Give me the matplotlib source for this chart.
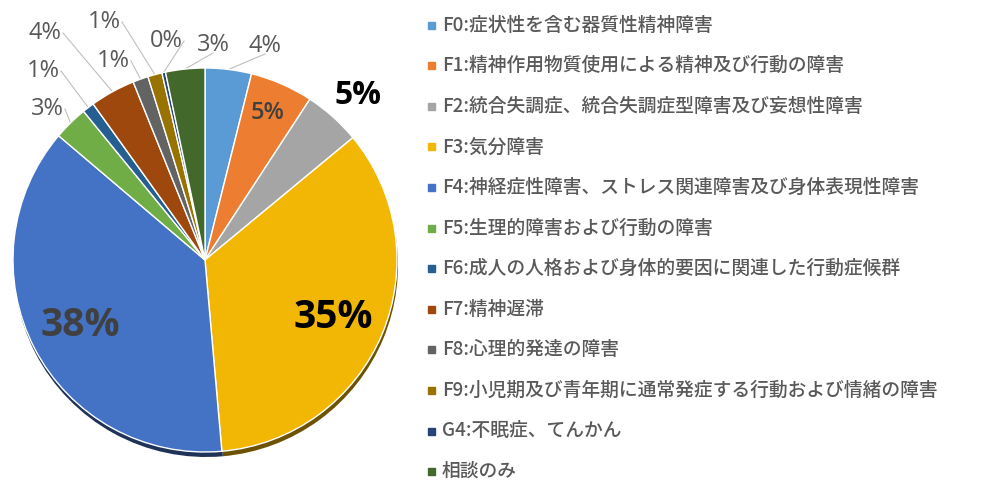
import numpy as np
import matplotlib.pyplot as plt
import matplotlib.colors as mcolors

plt.rcParams['font.family'] = ['Noto Sans CJK JP', 'DejaVu Sans']

labels = ['F0:症状性を含む器質性精神障害',
          'F1:精神作用物質使用による精神及び行動の障害',
          'F2:統合失調症、統合失調症型障害及び妄想性障害',
          'F3:気分障害',
          'F4:神経症性障害、ストレス関連障害及び身体表現性障害',
          'F5:生理的障害および行動の障害',
          'F6:成人の人格および身体的要因に関連した行動症候群',
          'F7:精神遅滞',
          'F8:心理的発達の障害',
          'F9:小児期及び青年期に通常発症する行動および情緒の障害',
          'G4:不眠症、てんかん',
          '相談のみ']
values = [3.9, 5.3, 4.8, 34.6, 37.6, 2.9, 1.0, 3.8, 1.3, 1.2, 0.3, 3.3]
colors = ['#5B9BD5', '#ED7D31', '#A5A5A5', '#F2B705', '#4472C4', '#70AD47',
          '#255E91', '#9E480E', '#636363', '#997300', '#264478', '#43682B']

W, H = 1008, 483
cx, cy, r = 205, H - 260, 192

fig = plt.figure(figsize=(W / 100, H / 100), dpi=100)
ax = fig.add_axes([0, 0, 1, 1])

# dark rim underneath for the 3D look
dark = [tuple(np.array(mcolors.to_rgb(c)) * 0.45) for c in colors]
ax.pie(values, colors=dark, startangle=90, counterclock=False,
       center=(cx + 1, cy - 5), radius=r, wedgeprops=dict(linewidth=0))
wedges, _ = ax.pie(values, colors=colors, startangle=90, counterclock=False,
                   center=(cx, cy), radius=r,
                   wedgeprops=dict(edgecolor='white', linewidth=1))

pct = [f'{round(v / sum(values) * 100)}%' for v in values]

# label placement (pixel coords from top-left), style, leader line or not
lab_pos = [(265, 46), (268, 113), (358, 96), (333, 318), (80, 326), (47, 109),
           (43, 71), (45, 33), (113, 61), (104, 22), (166, 41), (213, 45)]
lab_style = ['out', 'in', 'big', 'huge', 'huge', 'out',
             'out', 'out', 'out', 'out', 'out', 'out']
lab_color = ['#595959', '#404040', 'black', 'black', '#404040', '#595959',
             '#595959', '#595959', '#595959', '#595959', '#595959', '#595959']

for w, t, (px, py), st, col in zip(wedges, pct, lab_pos, lab_style, lab_color):
    ty = H - py
    if st == 'huge':
        ax.text(px, ty, t, fontsize=28, fontweight='bold', color=col,
                ha='center', va='center', family='Open Sans')
    elif st == 'big':
        ax.text(px, ty, t, fontsize=23, fontweight='bold', color=col,
                ha='center', va='center', family='Open Sans')
    elif st == 'in':
        ax.text(px, ty, t, fontsize=17, fontweight='semibold', color=col,
                ha='center', va='center', family='Open Sans')
    else:
        ax.text(px, ty, t, fontsize=17, fontweight='medium', color=col,
                ha='center', va='center', family='Open Sans')
        ang = np.deg2rad((w.theta1 + w.theta2) / 2)
        ex, ey = cx + r * np.cos(ang), cy + r * np.sin(ang)
        # leader from label edge to slice rim
        sx = px + 18 if px < cx - 10 else px
        sy = ty - 8 if px >= cx - 10 else ty
        ax.plot([sx, ex], [sy, ey], color='#BFBFBF', lw=0.8, zorder=0)

# legend
for i, (lab, c) in enumerate(zip(labels, colors)):
    y = H - (25 + i * 40.6)
    ax.add_patch(plt.Rectangle((428, y - 3.5), 7, 7, color=c))
    ax.text(442, y, lab, fontsize=13.5, fontweight='medium', color='#595959',
            va='center', ha='left')

ax.set_xlim(0, W)
ax.set_ylim(0, H)
ax.set_aspect('auto')
ax.axis('off')
fig.savefig('out.png', dpi=100)
